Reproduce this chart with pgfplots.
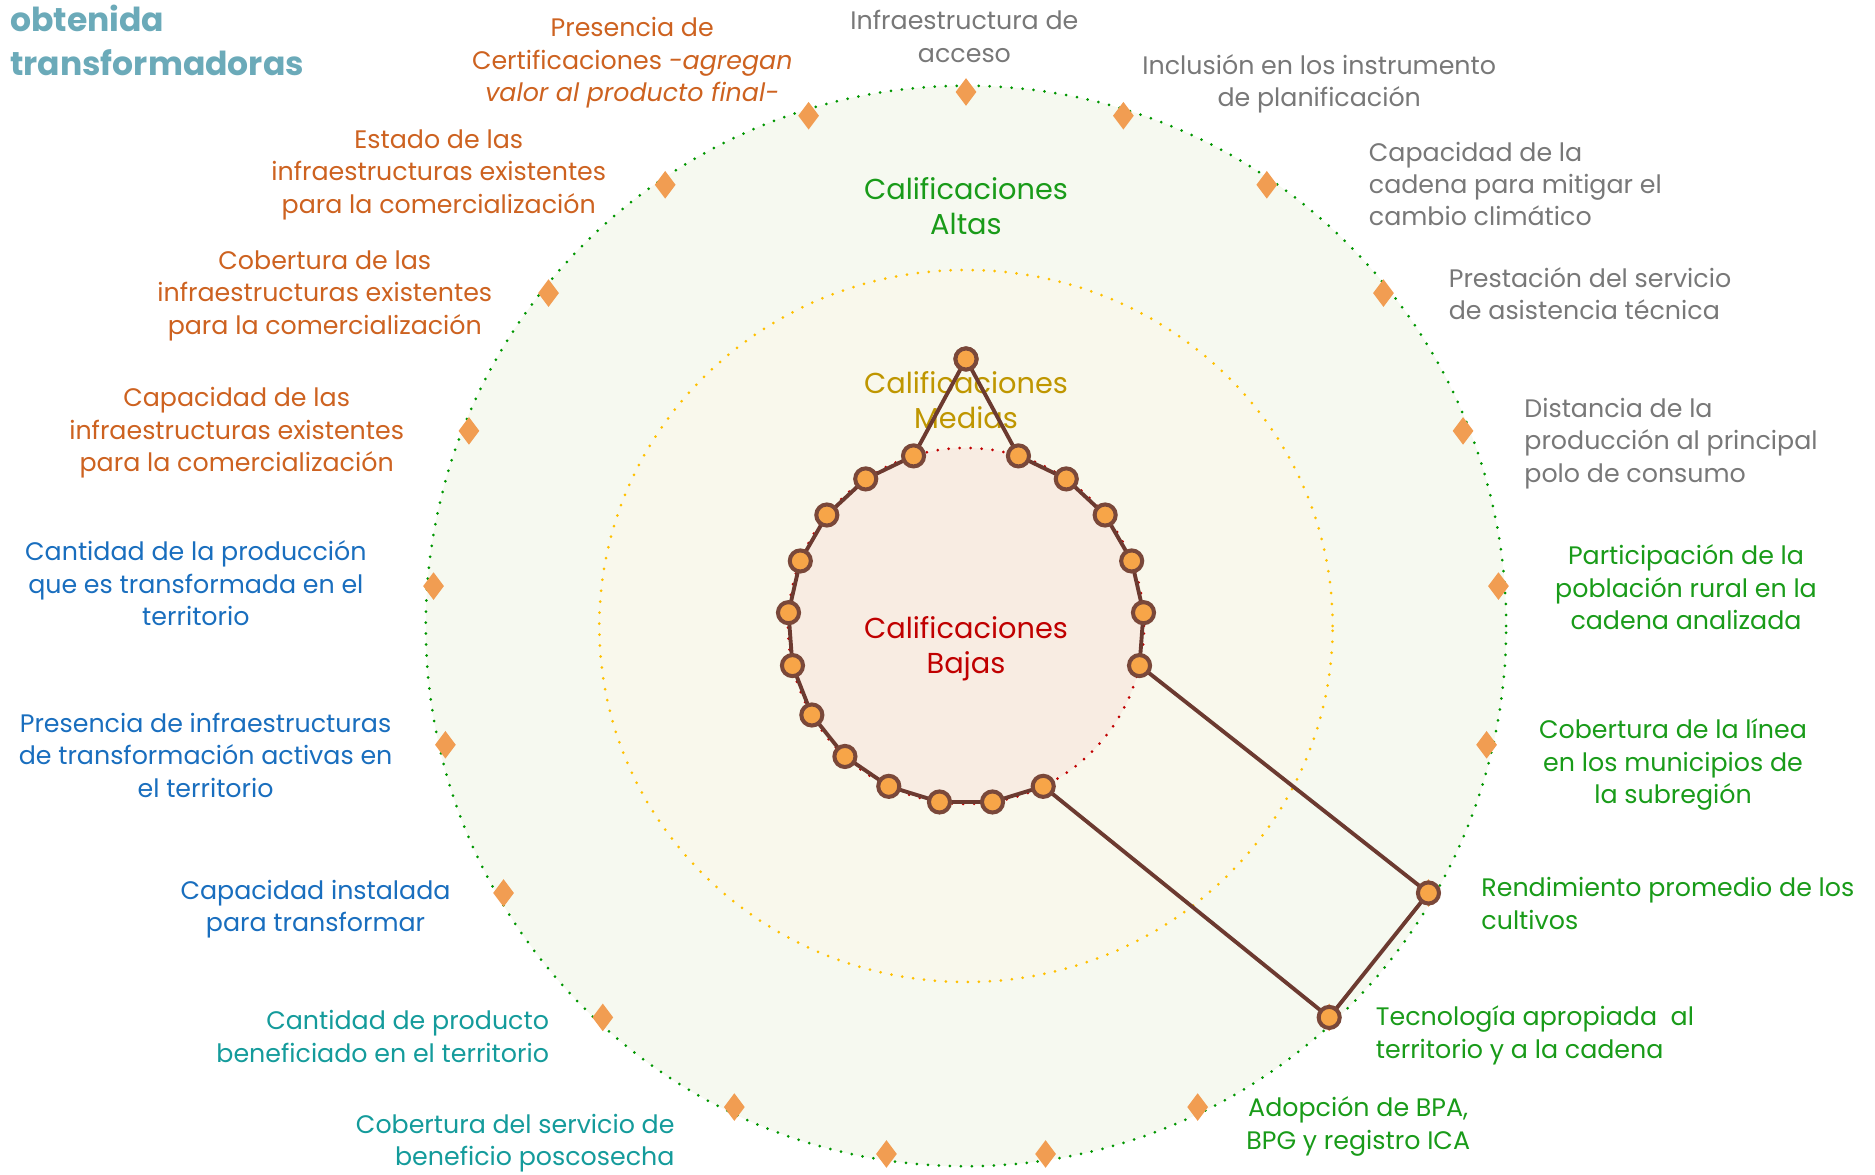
\documentclass[border=0pt]{standalone}
\usepackage{fontspec}
\setmainfont{Poppins}
\usepackage{pgfplots}
\pgfplotsset{compat=1.18}

\definecolor{fillout}{RGB}{246,249,240}
\definecolor{fillmid}{RGB}{249,248,236}
\definecolor{fillin}{RGB}{248,236,226}
\definecolor{ringgreen}{RGB}{0,150,0}
\definecolor{ringyellow}{RGB}{255,192,0}
\definecolor{ringred}{RGB}{192,0,0}
\definecolor{diam}{RGB}{241,157,82}
\definecolor{linebrown}{RGB}{108,58,48}
\definecolor{mkedge}{RGB}{122,72,58}
\definecolor{mkfill}{RGB}{247,165,72}
\definecolor{lgray}{RGB}{120,120,120}
\definecolor{lgreen}{RGB}{25,155,25}
\definecolor{lteal}{RGB}{20,155,155}
\definecolor{lblue}{RGB}{25,110,190}
\definecolor{lorange}{RGB}{205,98,32}
\definecolor{ltitle}{RGB}{107,170,185}
\definecolor{tmed}{RGB}{191,150,0}

\tikzset{
  lbl/.style={font=\fontsize{7.2}{9.2}\selectfont, inner sep=0pt},
  dots/.style={line width=0.03cm, line cap=round, dash pattern=on 0pt off 0.11cm},
}

\begin{document}
\begin{tikzpicture}
\clip (0,0) rectangle (18.75,11.75);

\begin{axis}[
  at={(9.66cm,5.49cm)}, anchor=origin,
  x=1.78cm, y=1.78cm,
  xmin=-3.2, xmax=3.2, ymin=-3.2, ymax=3.2,
  hide axis, clip=false,
]
  % background rings
  \fill[fillout] (axis cs:0,0) circle[radius=3.035];
  \fill[fillmid] (axis cs:0,0) ellipse[x radius=2.06, y radius=2.0];
  \fill[fillin] (axis cs:0,0) circle[radius=1];
  \draw[dots, ringgreen] (axis cs:0,0) circle[radius=3.035];
  \draw[dots, ringyellow] (axis cs:0,0) ellipse[x radius=2.06, y radius=2.0];
  \draw[dots, ringred] (axis cs:0,0) circle[radius=1];

  \node[font=\fontsize{8.2}{9.9}\selectfont, text=lgreen, align=center] at (axis cs:0,2.357) {Calificaciones\\Altas};
  \node[font=\fontsize{8.2}{9.9}\selectfont, text=tmed, align=center] at (axis cs:0,1.27) {Calificaciones\\Medias};
  \node[font=\fontsize{8.2}{9.9}\selectfont, text=ringred, align=center] at (axis cs:0,-0.126) {Calificaciones\\Bajas};

  % axis markers (21 criteria)
  \addplot[data cs=polar, only marks, mark=diamond*, mark size=3.6pt,
    mark options={fill=diam, draw=diam}] coordinates {
    (90,3) (72.857,3) (55.714,3) (38.571,3) (21.429,3) (4.286,3) (-12.857,3)
    (-30,3) (-47.143,3) (-64.286,3) (-81.429,3) (-98.571,3) (-115.714,3)
    (-132.857,3) (-150,3) (-167.143,3) (175.714,3) (158.571,3) (141.429,3)
    (124.286,3) (107.143,3)
  };

  % scores
  \addplot[data cs=polar, linebrown, line width=1.1pt, mark=*, mark size=3.0pt,
    mark options={fill=mkfill, draw=mkedge, line width=1.15pt}] coordinates {
    (90,1.5) (72.857,1) (55.714,1) (38.571,1) (21.429,1) (4.286,1) (-12.857,1)
    (-30,3) (-47.143,3) (-64.286,1) (-81.429,1) (-98.571,1) (-115.714,1)
    (-132.857,1) (-150,1) (-167.143,1) (175.714,1) (158.571,1) (141.429,1)
    (124.286,1) (107.143,1) (90,1.5)
  };
\end{axis}

\begin{scope}[x=0.01cm, y=-0.01cm, yshift=11.75cm]
  \node[anchor=west, align=left, inner sep=0pt, text=ltitle,
    font=\fontsize{9.4}{12.5}\selectfont\bfseries] at (9.6,40) {obtenida\\transformadoras};

  \node[lbl, text=lgray, align=center] at (965,36.5) {Infraestructura de\\acceso};
  \node[lbl, text=lgray, align=center] at (1320,83.7) {Inclusión en los instrumento\\de planificación};
  \node[lbl, text=lgray, align=left, anchor=west] at (1369,184) {Capacidad de la\\cadena para mitigar el\\cambio climático};
  \node[lbl, text=lgray, align=left, anchor=west] at (1449,293.6) {Prestación del servicio\\de asistencia técnica};
  \node[lbl, text=lgray, align=left, anchor=west] at (1524.6,443.6) {Distancia de la\\producción al principal\\polo de consumo};

  \node[lbl, text=lgreen, align=center] at (1687,587.7) {Participación de la\\población rural en la\\cadena analizada};
  \node[lbl, text=lgreen, align=center] at (1674,765) {Cobertura de la línea\\en los municipios de\\la subregión};
  \node[lbl, text=lgreen, align=left, anchor=west] at (1481.6,904) {Rendimiento promedio de los\\cultivos};
  \node[lbl, text=lgreen, align=left, anchor=west] at (1376,1036) {Tecnología apropiada\ \ al\\territorio y a la cadena};
  \node[lbl, text=lgreen, align=center] at (1359,1127) {Adopción de BPA,\\BPG y registro ICA};

  \node[lbl, text=lteal, align=right, anchor=east] at (675.6,1143.8) {Cobertura del servicio de\\beneficio poscosecha};
  \node[lbl, text=lteal, align=right, anchor=east] at (550,1037) {Cantidad de producto\\beneficiado en el territorio};

  \node[lbl, text=lblue, align=center] at (315.7,910) {Capacidad instalada\\para transformar};
  \node[lbl, text=lblue, align=center] at (205.7,755.7) {Presencia de infraestructuras\\de transformación activas en\\el territorio};
  \node[lbl, text=lblue, align=center] at (196,583.5) {Cantidad de la producción\\que es transformada en el\\territorio};

  \node[lbl, text=lorange, align=center] at (236.8,433) {Capacidad de las\\infraestructuras existentes\\para la comercialización};
  \node[lbl, text=lorange, align=center] at (325,296) {Cobertura de las\\infraestructuras existentes\\para la comercialización};
  \node[lbl, text=lorange, align=center] at (439,175) {Estado de las\\infraestructuras existentes\\para la comercialización};
  \node[lbl, text=lorange, align=center] at (632.6,62.8) {Presencia de\\Certificaciones \textit{-agregan}\\\textit{valor al producto final-}};
\end{scope}
\end{tikzpicture}
\end{document}
